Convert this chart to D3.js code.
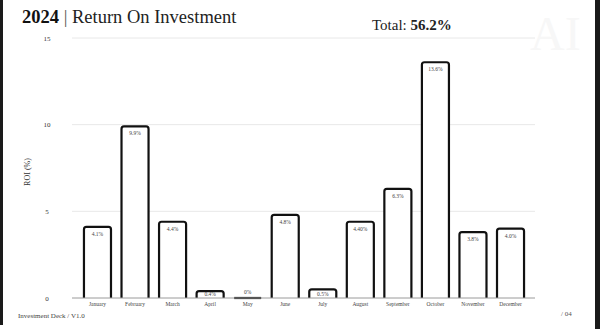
<!DOCTYPE html>
<html>
<head>
<meta charset="utf-8">
<script src="https://cdn.jsdelivr.net/npm/d3@7"></script>
<style>
  html, body { margin: 0; padding: 0; background: #fff; }
  svg { display: block; }
  text { font-family: "Liberation Serif", "DejaVu Serif", serif; }
</style>
</head>
<body>
<svg id="chart" width="600" height="329"></svg>
<script>
// Monthly return on investment, 2024
const months = ["January", "February", "March", "April", "May", "June",
                "July", "August", "September", "October", "November", "December"];
const roi = [4.1, 9.9, 4.4, 0.4, 0, 4.8, 0.5, 4.40, 6.3, 13.6, 3.8, 4.0];
const roiLabels = ["4.1%", "9.9%", "4.4%", "0.4%", "0%", "4.8%",
                   "0.5%", "4.40%", "6.3%", "13.6%", "3.8%", "4.0%"];
const yTicks = [0, 5, 10, 15];
const totalLabel = "56.2%";

const svg = d3.select("#chart");
const W = 600, H = 329;

const gridLeft = 72, gridRight = 535;
const x = d3.scaleBand().domain(months).range([78.7, 529.3])
  .paddingInner(0.28).paddingOuter(0.14);
const y = d3.scaleLinear().domain([0, 15]).range([298, 38]);

// faint watermark
svg.append("text").attr("x", 530).attr("y", 50)
  .attr("font-size", 48).attr("fill", "#f7f7f7").text("AI");

// slide edges
svg.append("rect").attr("x", 0).attr("y", 0).attr("width", 3).attr("height", 325).attr("fill", "#1a1a1a");
svg.append("rect").attr("x", 595).attr("y", 0).attr("width", 5).attr("height", H).attr("fill", "#1a1a1a");

// title
const title = svg.append("text").attr("x", 22).attr("y", 23).attr("font-size", 18.5).attr("fill", "#222");
title.append("tspan").attr("font-weight", "bold").attr("fill", "#111").text("2024");
title.append("tspan").attr("fill", "#555").text(" | ");
title.append("tspan").text("Return On Investment");

const total = svg.append("text").attr("x", 372).attr("y", 30).attr("font-size", 15).attr("fill", "#222");
total.append("tspan").text("Total: ");
total.append("tspan").attr("font-weight", "bold").text(totalLabel);

// gridlines
svg.append("g").selectAll("line").data(yTicks.filter(d => d > 0)).join("line")
  .attr("x1", gridLeft).attr("x2", gridRight)
  .attr("y1", d => y(d)).attr("y2", d => y(d))
  .attr("stroke", "#e8e8e8").attr("stroke-width", 1);

// y axis tick labels
svg.append("g").selectAll("text").data(yTicks).join("text")
  .attr("x", 47).attr("y", d => y(d) + 2.5)
  .attr("text-anchor", "middle").attr("font-size", 7).attr("fill", "#333")
  .text(d => d);

// y axis title
svg.append("text").attr("transform", "translate(30,172) rotate(-90)")
  .attr("text-anchor", "middle").attr("font-size", 8).attr("fill", "#333")
  .text("ROI (%)");

// bars with rounded top corners
function barPath(d) {
  const x0 = x(d.m), x1 = x0 + x.bandwidth();
  const yb = y(0), yt = y(d.v);
  const r = Math.min(2.5, (yb - yt));
  const p = d3.path();
  p.moveTo(x0, yb);
  p.lineTo(x0, yt + r);
  if (r > 0) p.quadraticCurveTo(x0, yt, x0 + r, yt);
  p.lineTo(x1 - r, yt);
  if (r > 0) p.quadraticCurveTo(x1, yt, x1, yt + r);
  p.lineTo(x1, yb);
  return p.toString();
}
const data = months.map((m, i) => ({ m, v: roi[i], label: roiLabels[i] }));

svg.append("g").selectAll("path").data(data).join("path")
  .attr("d", barPath)
  .attr("fill", "#fff").attr("stroke", "#111").attr("stroke-width", 2.2)
  .attr("stroke-linejoin", "round");

// baseline
svg.append("line").attr("x1", gridLeft).attr("x2", gridRight)
  .attr("y1", y(0)).attr("y2", y(0)).attr("stroke", "#9a9a9a").attr("stroke-width", 1);

// value labels: inside the bar top, or just above the baseline for an empty bar
svg.append("g").selectAll("text").data(data).join("text")
  .attr("x", d => x(d.m) + x.bandwidth() / 2)
  .attr("y", d => d.v > 0 ? Math.min(y(d.v) + 9, y(0) - 2.5) : y(0) - 4)
  .attr("text-anchor", "middle").attr("font-size", 5.5).attr("fill", "#444")
  .text(d => d.label);

// month labels
svg.append("g").selectAll("text").data(data).join("text")
  .attr("x", d => x(d.m) + x.bandwidth() / 2).attr("y", 306)
  .attr("text-anchor", "middle").attr("font-size", 5.5).attr("fill", "#444")
  .text(d => d.m);

// footer
svg.append("text").attr("x", 18).attr("y", 318).attr("font-size", 7).attr("fill", "#444")
  .text("Investment Deck / V1.0");
svg.append("text").attr("x", 561).attr("y", 316).attr("font-size", 7).attr("fill", "#555")
  .text("/ 04");
</script>
</body>
</html>
